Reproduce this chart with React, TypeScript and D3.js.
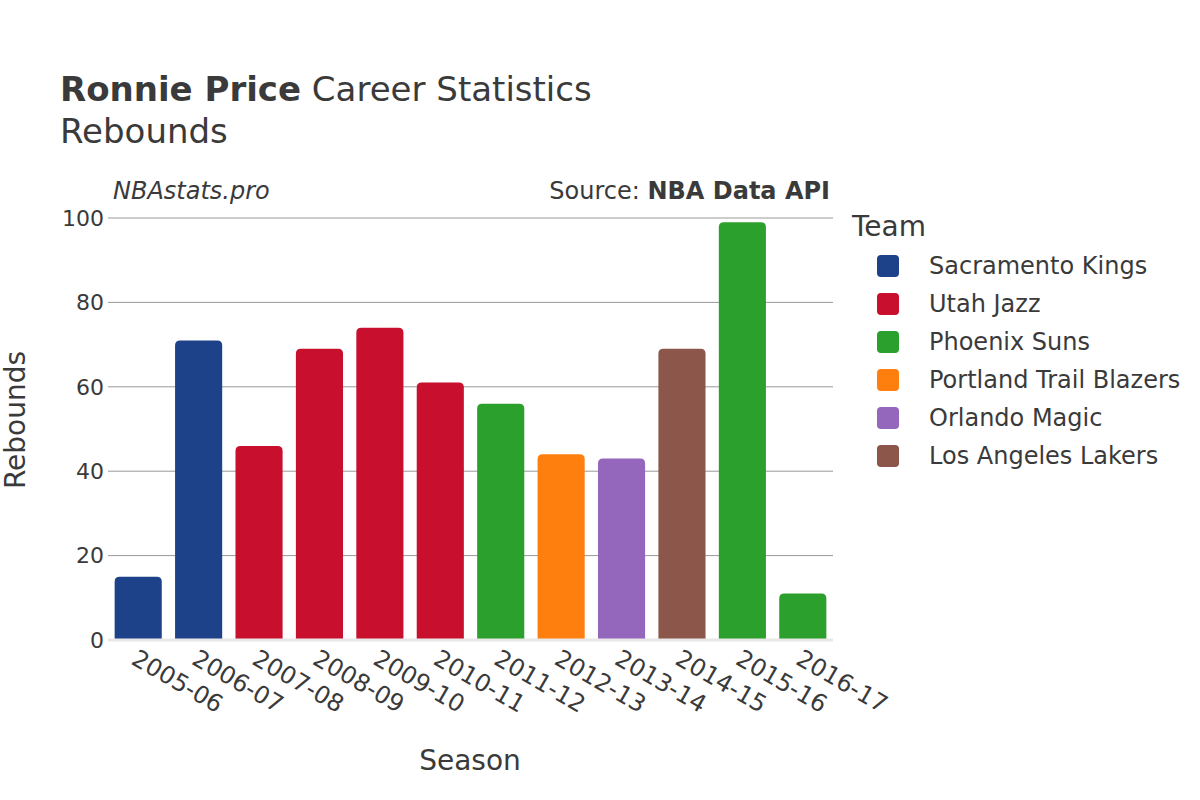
import React from "react";
import * as d3 from "d3";

const seasons = ["2005-06","2006-07","2007-08","2008-09","2009-10","2010-11","2011-12","2012-13","2013-14","2014-15","2015-16","2016-17"];
const rebounds = [15, 71, 46, 69, 74, 61, 56, 44, 43, 69, 99, 11];
const seasonTeams = ["Sacramento Kings","Sacramento Kings","Utah Jazz","Utah Jazz","Utah Jazz","Utah Jazz","Phoenix Suns","Portland Trail Blazers","Orlando Magic","Los Angeles Lakers","Phoenix Suns","Phoenix Suns"];
const teams = ["Sacramento Kings","Utah Jazz","Phoenix Suns","Portland Trail Blazers","Orlando Magic","Los Angeles Lakers"];
const teamColors = ["#1d428a","#c8102e","#2ca02c","#ff7f0e","#9467bd","#8c564b"];
const yTicks = [0, 20, 40, 60, 80, 100];

const W = 1200, H = 800;
const M = { left: 108, right: 833, top: 218, bottom: 640 };
const FONT = "'DejaVu Sans', Verdana, sans-serif";
const TXT = "#3a3a3a";

function roundTopRect(x: number, y: number, w: number, h: number, r: number) {
  const rr = Math.min(r, h, w / 2);
  return `M${x},${y + h}V${y + rr}Q${x},${y} ${x + rr},${y}H${x + w - rr}Q${x + w},${y} ${x + w},${y + rr}V${y + h}Z`;
}

export default function App() {
  const x = d3.scaleBand<string>().domain(seasons).range([M.left, M.right]).paddingInner(0.22).paddingOuter(0.11);
  const y = d3.scaleLinear().domain([0, 100]).range([M.bottom, M.top]);
  const color = d3.scaleOrdinal<string, string>().domain(teams).range(teamColors);

  return (
    <svg width={W} height={H} style={{ display: "block", fontFamily: FONT, position: "absolute", left: 0, top: 0 }}>
      <rect width={W} height={H} fill="#fff" />
      <text x={60} y={101} fontSize={34} fill={TXT}>
        <tspan fontWeight="bold">Ronnie Price</tspan> Career Statistics
      </text>
      <text x={60} y={143} fontSize={34} fill={TXT}>Rebounds</text>
      <text x={113} y={199} fontSize={24} fontStyle="italic" fill={TXT}>NBAstats.pro</text>
      <text x={830} y={199} fontSize={24} textAnchor="end" fill={TXT}>
        Source: <tspan fontWeight="bold">NBA Data API</tspan>
      </text>

      {yTicks.map(t => (
        <g key={t}>
          {t > 0 && <line x1={M.left} x2={M.right} y1={y(t)} y2={y(t)} stroke="#999" strokeWidth={1} />}
          <text x={104} y={y(t)} dy="0.35em" fontSize={22} textAnchor="end" fill={TXT}>{t}</text>
        </g>
      ))}

      {seasons.map((s, i) => {
        const bx = x(s)!;
        const by = y(rebounds[i]);
        return (
          <path key={s} d={roundTopRect(bx, by, x.bandwidth(), M.bottom - by, 5)} fill={color(seasonTeams[i])} />
        );
      })}
      <line x1={M.left} x2={M.right} y1={M.bottom} y2={M.bottom} stroke="#e8e8e8" strokeWidth={3} />

      {seasons.map(s => {
        const cx = x(s)! + x.bandwidth() / 2;
        return (
          <text key={s} transform={`translate(${cx - 4},${656}) rotate(30)`} fontSize={24} fill={TXT} dy="0.35em">{s}</text>
        );
      })}

      <text x={470} y={770} fontSize={28} textAnchor="middle" fill={TXT}>Season</text>
      <text transform={`translate(15,420) rotate(-90)`} fontSize={28} textAnchor="middle" dy="0.35em" fill={TXT}>Rebounds</text>

      <text x={852} y={236} fontSize={28} fill={TXT}>Team</text>
      {teams.map((t, i) => {
        const cy = 266 + i * 38;
        return (
          <g key={t}>
            <rect x={877} y={cy - 11} width={22} height={22} rx={4} fill={color(t)} />
            <text x={929} y={cy} dy="0.35em" fontSize={24} fill={TXT}>{t}</text>
          </g>
        );
      })}
    </svg>
  );
}
